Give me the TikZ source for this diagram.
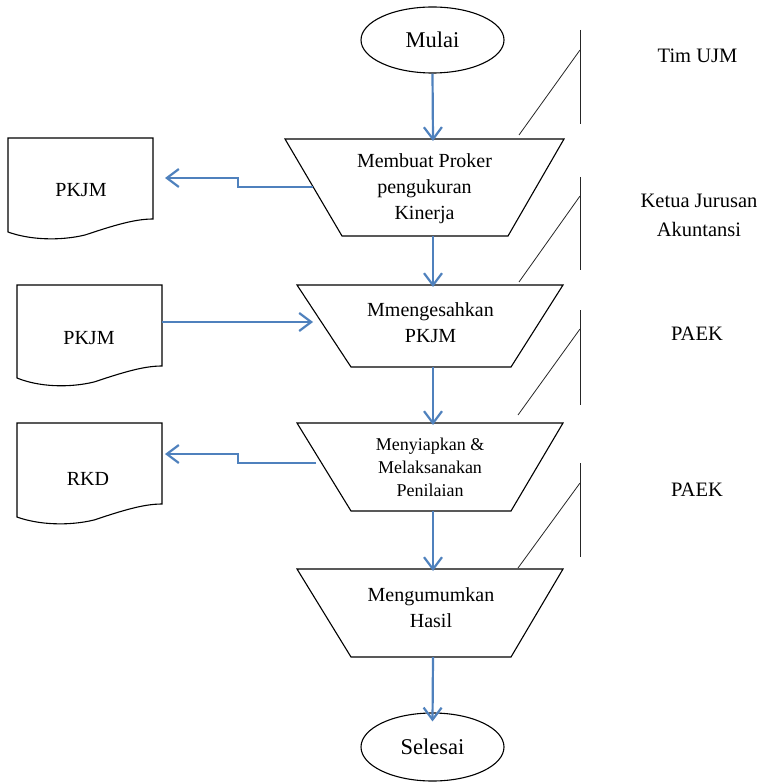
\documentclass[tikz,border=0pt]{standalone}
\usepackage{fontspec}
\setmainfont{Liberation Serif}
\usetikzlibrary{arrows.meta,shapes.geometric}
\definecolor{flowblue}{RGB}{79,129,189}
\begin{document}
\begin{tikzpicture}[x=1pt,y=-1pt,
  shapeline/.style={draw=black, line width=1.1pt, line join=miter},
  flow/.style={draw=flowblue, line width=2.2pt, -{Straight Barb[length=12pt,width=18pt,line width=2.2pt]}},
  lane/.style={draw=black!85, line width=0.8pt},
  term/.style={ellipse, draw, line width=1.1pt, minimum width=143pt, minimum height=66pt, inner sep=0pt, font=\fontsize{22.5}{26}\selectfont},
  lbl/.style={font=\fontsize{20}{26}\selectfont, align=center, inner sep=0pt},
  lblsmall/.style={font=\fontsize{18}{23}\selectfont, align=center, inner sep=0pt},
  sidelbl/.style={font=\fontsize{20.5}{29}\selectfont, align=center, inner sep=0pt},
]
\useasboundingbox (0,0) rectangle (769,783);

% terminals
\node[term] (mulai) at (432.5,40) {Mulai};
\node[term, minimum height=68pt] (selesai) at (432.5,747) {Selesai};

% process trapezoids
\draw[shapeline] (285,139) -- (564,139) -- (508,236) -- (342,236) -- cycle;
\node[lbl] (p1) at (424.5,189) {Membuat Proker\\pengukuran\\Kinerja};
\coordinate (p1n) at (433,139);
\coordinate (p1s) at (433,236);
\coordinate (p1w) at (313,187);

\draw[shapeline] (297,285) -- (563,285) -- (511,367) -- (351,367) -- cycle;
\node[lbl] (p2) at (430.5,323) {Mmengesahkan\\PKJM};
\coordinate (p2n) at (433,285);
\coordinate (p2s) at (433,367);
\coordinate (p2w) at (313,322);

\draw[shapeline] (297,423) -- (563,423) -- (511,511) -- (351,511) -- cycle;
\node[lblsmall] (p3) at (430,467) {Menyiapkan \&\\Melaksanakan\\Penilaian};
\coordinate (p3n) at (433,423);
\coordinate (p3s) at (433,511);
\coordinate (p3w) at (316,463);

\draw[shapeline] (297,569) -- (563,569) -- (511,657) -- (351,657) -- cycle;
\node[lbl] (p4) at (431,608) {Mengumumkan\\Hasil};
\coordinate (p4n) at (433,569);
\coordinate (p4s) at (433,657);

% documents
\begin{scope}[shift={(8,138)}]
  \draw[shapeline] (0,94) -- (0,0) -- (145,0) -- (145,81)
    .. controls (127,81) and (107,87) .. (77,97)
    .. controls (52,103) and (22,102) .. (0,94) -- cycle;
  \node[lbl] (d1) at (73,52) {PKJM};
  \coordinate (d1e) at (157,40);
\end{scope}
\begin{scope}[shift={(17,285)}]
  \draw[shapeline] (0,93) -- (0,0) -- (145,0) -- (145,81)
    .. controls (127,81) and (107,87) .. (77,97)
    .. controls (52,103) and (22,102) .. (0,93) -- cycle;
  \node[lbl] (d2) at (72,53) {PKJM};
  \coordinate (d2e) at (145,37);
\end{scope}
\begin{scope}[shift={(17,423)}]
  \draw[shapeline] (0,94) -- (0,0) -- (145,0) -- (145,81)
    .. controls (127,81) and (107,87) .. (77,97)
    .. controls (52,103) and (22,102) .. (0,94) -- cycle;
  \node[lbl] (d3) at (71,56) {RKD};
  \coordinate (d3e) at (148,31);
\end{scope}

% vertical flow
\draw[flow] (mulai.south) -- ([yshift=-2pt]p1n);
\draw[flow] (p1s) -- ([yshift=-2pt]p2n);
\draw[flow] (p2s) -- ([yshift=-2pt]p3n);
\draw[flow] (p3s) -- ([yshift=-2pt]p4n);
\draw[flow] (p4s) -- ([yshift=-9pt]selesai.north);

% horizontal flow
\draw[flow] (p1w) -- (238,187) -- (238,178) -- (d1e);
\draw[flow] (d2e) -- (p2w);
\draw[flow] (p3w) -- (238,463) -- (238,454) -- (d3e);

% lane markers
\draw[lane] (580,30) -- (580,124);
\draw[lane] (580,50) -- (519,135);
\draw[lane] (580,177) -- (580,270);
\draw[lane] (580,196) -- (519,282);
\draw[lane] (580,310) -- (580,405);
\draw[lane] (580,329) -- (518,415);
\draw[lane] (580,463) -- (580,557);
\draw[lane] (580,483) -- (518,568);

% lane labels
\node[sidelbl] (l1) at (697.5,56) {Tim UJM};
\node[sidelbl] (l2) at (699,215) {Ketua Jurusan\\Akuntansi};
\node[sidelbl] (l3) at (697,334) {PAEK};
\node[sidelbl] (l4) at (697,490) {PAEK};
\end{tikzpicture}
\end{document}
